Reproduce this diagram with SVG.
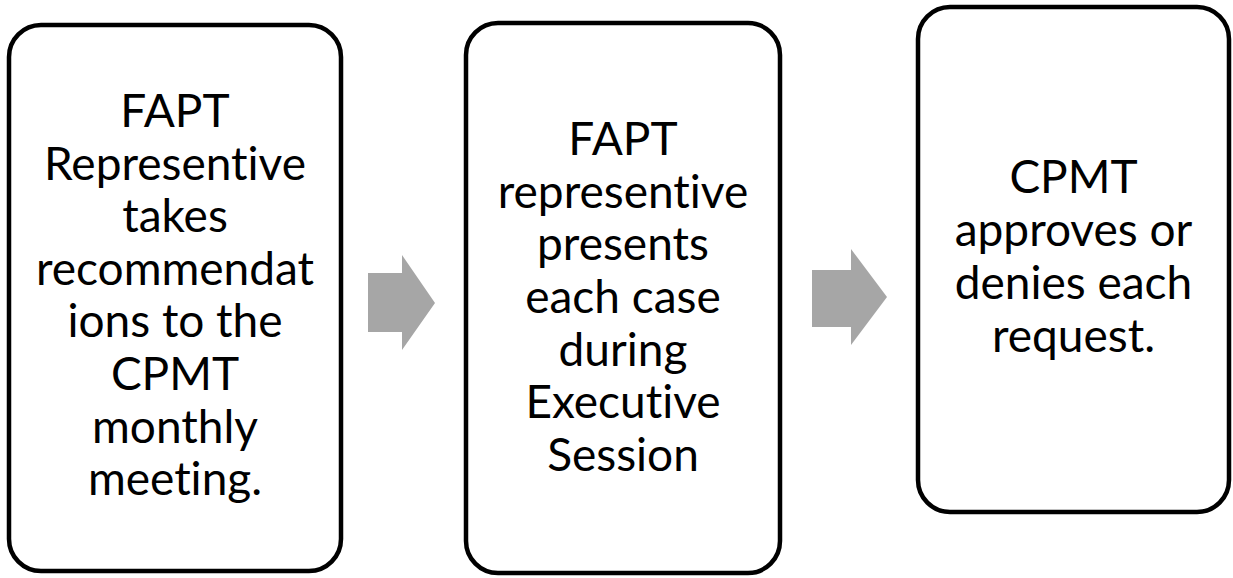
<svg xmlns="http://www.w3.org/2000/svg" width="1233" height="578" viewBox="0 0 1233 578">
<style>
.box{fill:#fff;stroke:#000;stroke-width:4.5}
.t{font-family:Lato,"Open Sans","Liberation Sans",sans-serif;font-size:46px;fill:#000;text-anchor:middle;font-variant-ligatures:none;font-feature-settings:"liga" 0}
.arr{fill:#A6A6A6}
</style>
<rect width="1233" height="578" fill="#fff"/>
<g id="node1">
<rect class="box" x="9" y="25" width="332" height="546" rx="32"/>
<text class="t"><tspan x="175" y="127">FAPT</tspan><tspan x="175" y="179.6">Representive</tspan><tspan x="175" y="232">takes</tspan><tspan x="175" y="284.8">recommendat</tspan><tspan x="175" y="337.4">ions to the</tspan><tspan x="175" y="390">CPMT</tspan><tspan x="175" y="442.6">monthly</tspan><tspan x="175" y="495">meeting.</tspan></text>
</g>
<g id="node2">
<rect class="box" x="466" y="23" width="314" height="550" rx="32"/>
<text class="t"><tspan x="623" y="155">FAPT</tspan><tspan x="623" y="207.6">representive</tspan><tspan x="623" y="260">presents</tspan><tspan x="623" y="313">each case</tspan><tspan x="623" y="365.6">during</tspan><tspan x="623" y="418">Executive</tspan><tspan x="623" y="471">Session</tspan></text>
</g>
<g id="node3">
<rect class="box" x="918" y="7" width="311" height="505" rx="32"/>
<text class="t"><tspan x="1073.5" y="193">CPMT</tspan><tspan x="1073.5" y="246">approves or</tspan><tspan x="1073.5" y="299">denies each</tspan><tspan x="1073.5" y="352">request.</tspan></text>
</g>
<g id="connectors">
<polygon class="arr" points="368,273 402,273 402,255 435,303 402,350 402,332 368,332"/>
<polygon class="arr" points="812,270 851,270 851,249 887,297 851,345 851,327 812,327"/>
</g>
</svg>
